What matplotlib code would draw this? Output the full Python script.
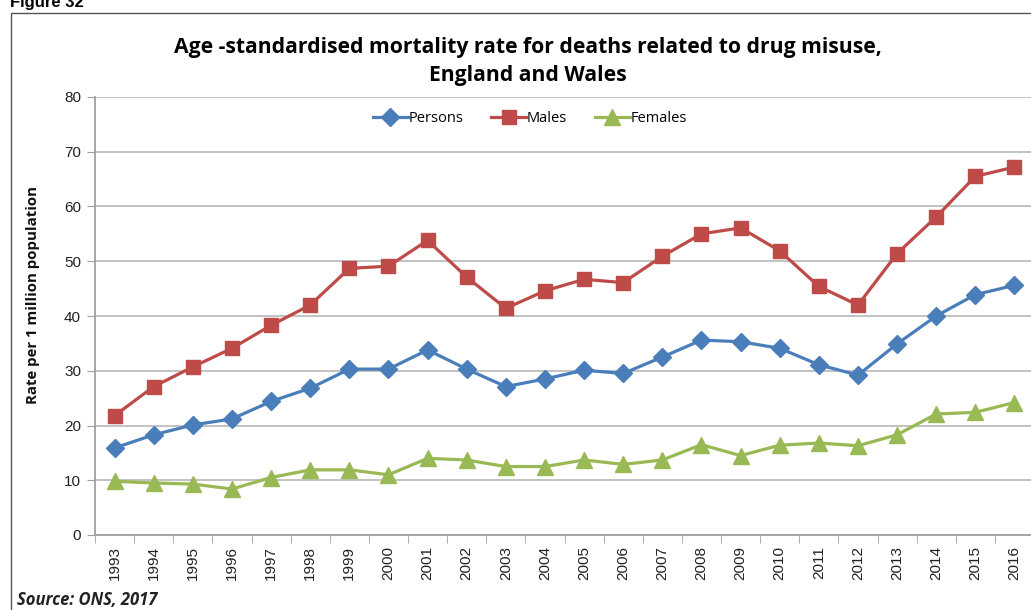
import matplotlib
matplotlib.use("Agg")
import matplotlib.pyplot as plt
from matplotlib.patches import Rectangle

years = [str(y) for y in range(1993, 2017)]
persons = [15.9, 18.3, 20.1, 21.2, 24.4, 26.8, 30.3, 30.3, 33.8, 30.3, 27.1, 28.5,
           30.1, 29.5, 32.5, 35.6, 35.3, 34.1, 31.1, 29.2, 34.9, 40.0, 43.9, 45.6]
males = [21.8, 27.1, 30.7, 34.1, 38.3, 42.0, 48.7, 49.1, 53.8, 47.1, 41.4, 44.6,
         46.7, 46.1, 50.9, 55.0, 56.1, 51.9, 45.4, 42.0, 51.4, 58.1, 65.5, 67.2]
females = [9.8, 9.5, 9.3, 8.4, 10.5, 11.9, 11.9, 11.0, 14.0, 13.7, 12.5, 12.5,
           13.7, 12.9, 13.7, 16.5, 14.5, 16.4, 16.8, 16.3, 18.3, 22.1, 22.4, 24.2]
y_ticks = [0, 10, 20, 30, 40, 50, 60, 70, 80]

W, H = 1031, 610
fig = plt.figure(figsize=(W / 100, H / 100), dpi=100)
fig.patch.set_facecolor("white")

# outer chart frame
fig.patches.append(Rectangle((11 / W, -0.05), 1.2, (H - 13) / H + 0.05,
                             transform=fig.transFigure, fill=False,
                             edgecolor="#555555", linewidth=1.0))

ax_left, ax_right, ax_top, ax_bottom = 95, 1034, 97, 535
ax = fig.add_axes([ax_left / W, (H - ax_bottom) / H,
                   (ax_right - ax_left) / W, (ax_bottom - ax_top) / H])
x = list(range(len(years)))

ax.plot(x, persons, color="#4A7EBB", lw=2.3, marker="D", ms=9,
        label="Persons", zorder=3)
ax.plot(x, males, color="#BE4B48", lw=2.3, marker="s", ms=10,
        label="Males", zorder=3)
ax.plot(x, females, color="#98B954", lw=2.3, marker="^", ms=11,
        label="Females", zorder=3)

ax.set_xlim(-0.5, len(years) - 0.5)
ax.set_ylim(0, 80)
ax.set_yticks(y_ticks)
ax.set_yticklabels([str(v) for v in y_ticks], fontsize=11,
                   family="Liberation Sans", color="#222222")
ax.set_xticks(x)
ax.set_xticklabels(years, rotation=90, fontsize=11, family="Liberation Sans",
                   color="#222222")
ax.tick_params(axis="x", length=0, pad=8)
ax.set_xticks([i - 0.5 for i in range(len(years) + 1)], minor=True)
ax.tick_params(axis="x", which="minor", length=6, color="#A0A0A0")
ax.tick_params(axis="y", length=6, color="#A0A0A0", pad=4)

ax.grid(axis="y", color="#BDBDBD", lw=1.3)
ax.set_axisbelow(True)
for s in ("top", "right"):
    ax.spines[s].set_visible(False)
for s in ("left", "bottom"):
    ax.spines[s].set_color("#A0A0A0")
    ax.spines[s].set_linewidth(1.3)

fig.text(33 / W, 1 - 295 / H, "Rate per 1 million population", rotation=90,
         ha="center", va="center", fontsize=10.8, fontweight="bold",
         family="Open Sans", color="#111111")

ax.legend(loc="upper center",
          bbox_to_anchor=((530 - ax_left) / (ax_right - ax_left), 0.997),
          ncol=3, frameon=False, handlelength=2.4,
          handletextpad=0.05, columnspacing=1.9,
          prop={"family": "Open Sans", "size": 10.5})

fig.text(528 / W, 1 - 47 / H, "Age -standardised mortality rate for deaths related to drug misuse,",
         ha="center", va="center", fontsize=15.2, fontweight="bold", family="Open Sans")
fig.text(528 / W, 1 - 76 / H, "England and Wales",
         ha="center", va="center", fontsize=15.2, fontweight="bold", family="Open Sans")
fig.text(10 / W, 1 - 2 / H, "Figure 32", ha="left", va="center",
         fontsize=12, fontweight="bold", family="Liberation Sans")
fig.text(17 / W, 1 - 600 / H, "Source: ONS, 2017", ha="left", va="center",
         fontsize=12, fontweight="bold", style="italic", family="Open Sans",
         color="#222222")

fig.savefig("out.png", dpi=100, facecolor="white")
